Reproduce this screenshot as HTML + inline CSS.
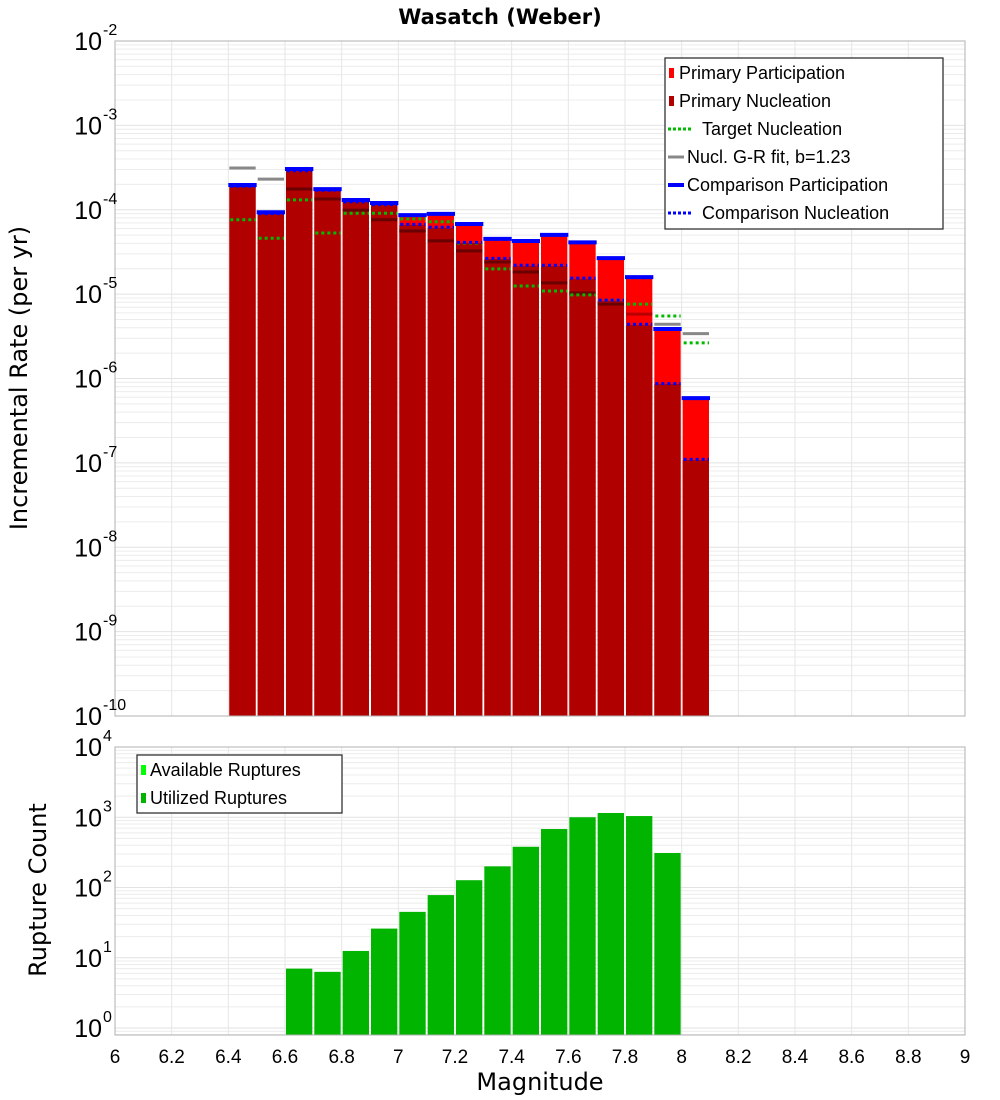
<!DOCTYPE html>
<html><head><meta charset="utf-8"><style>
html,body{margin:0;padding:0;background:#fff;}
svg{display:block;font-family:"Liberation Sans","DejaVu Sans",sans-serif;}
</style></head><body>
<svg id="chart" width="1000" height="1100" viewBox="0 0 1000 1100" xmlns="http://www.w3.org/2000/svg">
<text x="500" y="24" text-anchor="middle" font-size="21" font-weight="bold" font-family="DejaVu Sans, sans-serif">Wasatch (Weber)</text>
<g id="topG"></g>
<g id="botG"></g>
<text transform="translate(27,378) rotate(-90)" text-anchor="middle" font-size="24" font-family="DejaVu Sans, sans-serif">Incremental Rate (per yr)</text>
<text transform="translate(46,890) rotate(-90)" text-anchor="middle" font-size="24" font-family="DejaVu Sans, sans-serif">Rupture Count</text>
<text x="540" y="1090" text-anchor="middle" font-size="24" font-family="DejaVu Sans, sans-serif">Magnitude</text>
</svg>
<script>
const mags = [6.45,6.55,6.65,6.75,6.85,6.95,7.05,7.15,7.25,7.35,7.45,7.55,7.65,7.75,7.85,7.95,8.05];
const participation = [1.91e-4,9.1e-5,2.96e-4,1.71e-4,1.27e-4,1.17e-4,8.4e-5,8.7e-5,6.6e-5,4.4e-5,4.15e-5,4.9e-5,4.0e-5,2.6e-5,1.55e-5,3.76e-6,5.7e-7];
const nucleation = [1.88e-4,9.0e-5,2.9e-4,1.68e-4,1.24e-4,1.14e-4,6.6e-5,6.1e-5,4.04e-5,2.61e-5,2.15e-5,2.15e-5,1.51e-5,8.3e-6,4.3e-6,8.6e-7,1.08e-7];
const targetNucl = [7.6e-5,4.6e-5,1.31e-4,5.3e-5,9.1e-5,9.1e-5,7.8e-5,7.2e-5,4.04e-5,1.99e-5,1.25e-5,1.09e-5,9.8e-6,8.5e-6,7.6e-6,5.5e-6,2.64e-6];
const grFit = [3.13e-4,2.31e-4,1.76e-4,1.34e-4,9.9e-5,7.6e-5,5.6e-5,4.27e-5,3.25e-5,2.4e-5,1.83e-5,1.36e-5,1.03e-5,7.6e-6,5.8e-6,4.4e-6,3.4e-6];
const compPart = [1.91e-4,9.1e-5,2.96e-4,1.71e-4,1.27e-4,1.17e-4,8.4e-5,8.7e-5,6.6e-5,4.4e-5,4.15e-5,4.9e-5,4.0e-5,2.6e-5,1.55e-5,3.76e-6,5.7e-7];
const compNucl = [1.9e-4,9.0e-5,2.9e-4,1.7e-4,1.24e-4,1.15e-4,6.7e-5,6.2e-5,4.1e-5,2.65e-5,2.2e-5,2.2e-5,1.55e-5,8.5e-6,4.4e-6,8.7e-7,1.1e-7];
const countMags = [6.65,6.75,6.85,6.95,7.05,7.15,7.25,7.35,7.45,7.55,7.65,7.75,7.85,7.95];
const ruptureCounts = [7,6.3,12.5,26,45,78,127,200,380,680,1000,1150,1040,310];
const xTicks = [6,6.2,6.4,6.6,6.8,7,7.2,7.4,7.6,7.8,8,8.2,8.4,8.6,8.8,9];
const topExps = [-2,-3,-4,-5,-6,-7,-8,-9,-10];
const botExps = [4,3,2,1,0];

const NS="http://www.w3.org/2000/svg";
const topG=document.getElementById('topG');
const botG=document.getElementById('botG');
function mk(p,tag,at){const e=document.createElementNS(NS,tag);for(const k in at)e.setAttribute(k,at[k]);p.appendChild(e);return e;}
const X0=115,X1=965;
const xs=m=>X0+(m-6)/3*(X1-X0);
const T0=41,T1=716, ty=v=>T0+(-2-Math.log10(v))*(T1-T0)/8;
const B0=747,BD=70.25, by=v=>B0+(4-Math.log10(v))*BD, B1=1035;
const bw=(X1-X0)/30;

function grid(g,y0,y1,yfn,eTop,eBot){
  for(let e=eBot;e<eTop;e++)for(let k=1;k<10;k++){const y=yfn(k*Math.pow(10,e));if(y<y0-0.5||y>y1+0.5)continue;
    const l=mk(g,'line',{x1:X0,x2:X1,y1:y,y2:y,stroke:k===1?'#e2e2e2':'#ececec','stroke-width':1});
    
    }
  for(let i=1;i<15;i++){const x=xs(6+i*0.2);const l=mk(g,'line',{x1:x,x2:x,y1:y0,y2:y1,stroke:'#e6e6e6','stroke-width':1});
    
    }
}
grid(topG,T0,T1,ty,-2,-10);
grid(botG,B0,B1,by,4,-1);

mags.forEach((m,i)=>{
  const x=xs(m)-bw/2+1,w=bw-2;
  const r=mk(topG,'rect',{x:x,y:ty(participation[i]),width:w,height:T1-ty(participation[i]),fill:'#ff0000'});
  
  
  const n=mk(topG,'rect',{x:x,y:ty(nucleation[i]),width:w,height:T1-ty(nucleation[i]),fill:'#b00000'});
  
  
});
mags.forEach((m,i)=>{
  const x1=xs(m)-bw/2,x2=xs(m)+bw/2-1;
  const gv=grFit[i];let col='#888888';
  if(gv<=nucleation[i])col='#6a0000';else if(gv<=participation[i])col='#b80000';
  const g=mk(topG,'line',{x1:x1+1,x2:x2,y1:ty(gv),y2:ty(gv),stroke:col,'stroke-width':3});
  
  
  const t=mk(topG,'line',{x1:x1+2,x2:x2,y1:ty(targetNucl[i]),y2:ty(targetNucl[i]),stroke:'#00bb00','stroke-width':3,'stroke-dasharray':'3,3'});
  
  
  const cn=mk(topG,'line',{x1:x1+2,x2:x2,y1:ty(compNucl[i]),y2:ty(compNucl[i]),stroke:'#0000ff','stroke-width':3,'stroke-dasharray':'3,3'});
  
  
  const cp=mk(topG,'line',{x1:x1,x2:x2+1,y1:ty(compPart[i])-1,y2:ty(compPart[i])-1,stroke:'#0000ff','stroke-width':4});
  
  
});
countMags.forEach((m,i)=>{
  const r=mk(botG,'rect',{x:xs(m)-bw/2+1,y:by(ruptureCounts[i]),width:bw-2,height:B1-by(ruptureCounts[i]),fill:'#00b400'});
  
  
});
const f1=mk(topG,'rect',{x:X0,y:T0,width:X1-X0,height:T1-T0,fill:'none',stroke:'#b0b0b0','stroke-width':1});


const f2=mk(botG,'rect',{x:X0,y:B0,width:X1-X0,height:B1-B0,fill:'none',stroke:'#b0b0b0','stroke-width':1});


function ylab(g,y,e){
  const t=mk(g,'text',{x:102,y:y+9,'text-anchor':'end','font-size':25,fill:'#000'});t.textContent='10';
  
  
  const s=mk(g,'text',{x:103,y:y-6,'text-anchor':'start','font-size':16,fill:'#000'});s.textContent=String(e);
  
  
}
topExps.forEach(e=>ylab(topG,ty(Math.pow(10,e)),e));
botExps.forEach(e=>ylab(botG,by(Math.pow(10,e)),e));
xTicks.forEach(v=>{
  const t=mk(botG,'text',{x:xs(v),y:1063,'text-anchor':'middle','font-size':19,fill:'#000'});t.textContent=String(v);
  
  
});
function legend(g,x,y,w,h,items,name){
  const box=mk(g,'rect',{x:x,y:y,width:w,height:h,fill:'#fff',stroke:'#333','stroke-width':1.3});
  
  
  items.forEach((it,i)=>{
    const cy=y+15+i*28;
    if(it.t==='sq'){const s=mk(g,'rect',{x:x+4,y:cy-5,width:5,height:10,fill:it.c});}
    else {const s=mk(g,'line',{x1:x+3,x2:x+3+it.len,y1:cy,y2:cy,stroke:it.c,'stroke-width':it.w,'stroke-dasharray':it.t==='dot'?'3,2':'none'});}
    const tx=mk(g,'text',{x:x+it.tx,y:cy+6,'font-size':18,fill:'#000'});tx.textContent=it.label;
    
    
  });
}
legend(topG,665,58,278,171,[
 {t:'sq',c:'#ff0000',label:'Primary Participation',tx:14},
 {t:'sq',c:'#b00000',label:'Primary Nucleation',tx:14},
 {t:'dot',c:'#00bb00',w:3,len:24,label:'Target Nucleation',tx:37},
 {t:'line',c:'#888',w:3,len:16,label:'Nucl. G-R fit, b=1.23',tx:22},
 {t:'line',c:'#0000ff',w:4,len:16,label:'Comparison Participation',tx:22},
 {t:'dot',c:'#0000ff',w:3,len:24,label:'Comparison Nucleation',tx:37}
],'rate-legend');
legend(botG,137,755,205,58,[
 {t:'sq',c:'#00ff00',label:'Available Ruptures',tx:13},
 {t:'sq',c:'#00b400',label:'Utilized Ruptures',tx:13}
],'count-legend');
</script>
</body></html>
